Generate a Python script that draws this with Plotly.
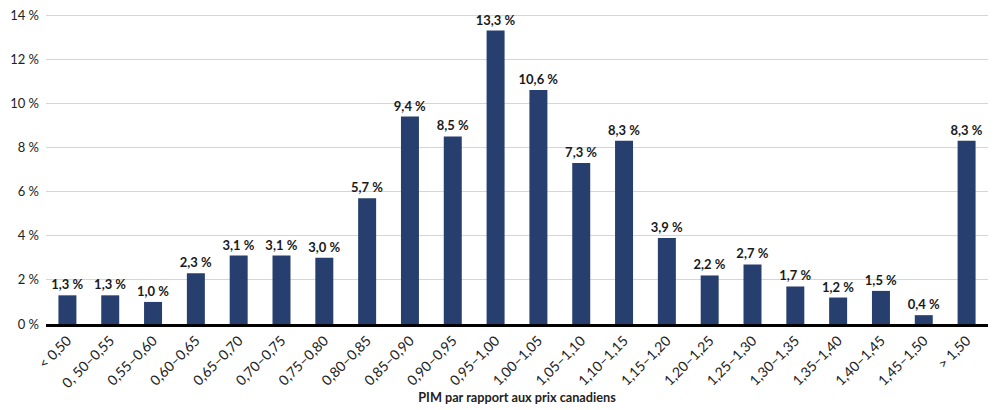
import plotly.graph_objects as go

categories = ["< 0,50", "0, 50–0,55", "0,55–0,60", "0,60–0,65", "0,65–0,70", "0,70–0,75",
              "0,75–0,80", "0,80–0,85", "0,85–0,90", "0,90–0,95", "0,95–1,00", "1,00–1,05",
              "1,05–1,10", "1,10–1,15", "1,15–1,20", "1,20–1,25", "1,25–1,30", "1,30–1,35",
              "1,35–1,40", "1,40–1,45", "1,45–1,50", "> 1,50"]
values = [1.3, 1.3, 1.0, 2.3, 3.1, 3.1, 3.0, 5.7, 9.4, 8.5, 13.3, 10.6,
          7.3, 8.3, 3.9, 2.2, 2.7, 1.7, 1.2, 1.5, 0.4, 8.3]
labels = [f"{v:.1f}".replace(".", ",") + " %" for v in values]
y_ticks = [0, 2, 4, 6, 8, 10, 12, 14]
y_ticktext = [f"{t} %" for t in y_ticks]

FONT = "Lato, 'Open Sans', sans-serif"

fig = go.Figure(go.Bar(
    x=categories, y=values, text=labels, textposition="outside",
    cliponaxis=False, constraintext="none",
    marker=dict(color="#263F6E", line=dict(width=0)),
    textfont=dict(family=FONT, size=13, color="#1a1a1a", weight="bold"),
))
fig.update_layout(
    width=992, height=402, margin=dict(l=38, r=12, t=6, b=86, autoexpand=False),
    paper_bgcolor="white", plot_bgcolor="white", bargap=0.58,
    showlegend=False, font=dict(family=FONT, color="#222"),
)
fig.update_yaxes(range=[0, 14.05], tickvals=y_ticks, ticktext=y_ticktext,
                 showgrid=True, gridcolor="#d6d6d6", gridwidth=1, automargin=False,
                 zeroline=False, ticks="", tickfont=dict(size=13, color="#222"),
                 ticklabelstandoff=6, ticklabeloverflow="allow")
fig.update_xaxes(showline=True, linecolor="black", linewidth=3, ticks="",
                 automargin=False, ticklabeloverflow="allow",
                 tickangle=-45, tickfont=dict(size=14, color="#222"),
                 title=dict(text="PIM par rapport aux prix canadiens",
                            font=dict(size=12.7, color="#222", weight="bold"), standoff=3))
fig.write_html("out.html")
